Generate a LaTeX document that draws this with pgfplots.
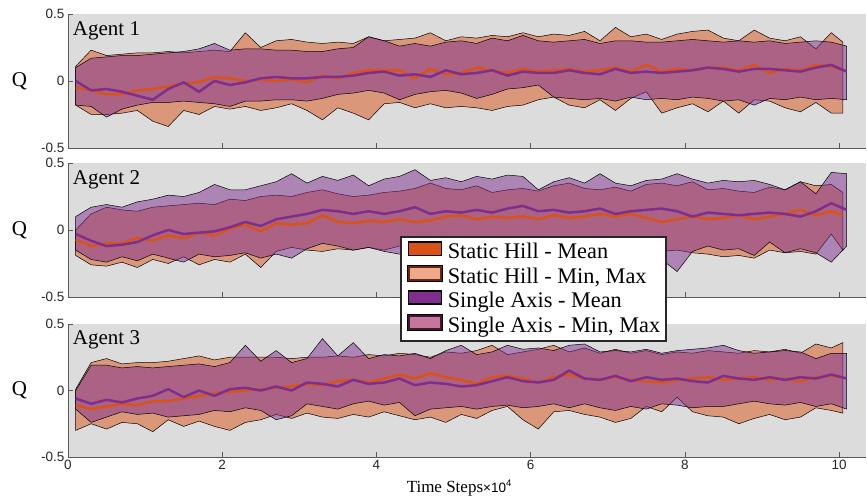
\documentclass[border=0pt]{standalone}
\usepackage{fontspec}
\setmainfont{Liberation Serif}
\newfontfamily\ticksf{Liberation Sans}
\usepackage{pgfplots}
\pgfplotsset{compat=1.18}
\usepackage{pgfplotstable}
\usepgfplotslibrary{fillbetween}

\definecolor{bgGray}{rgb}{0.863,0.863,0.863}
\definecolor{SH}{rgb}{0.85,0.325,0.098}
\definecolor{SA}{rgb}{0.494,0.184,0.556}
\definecolor{SHlight}{RGB}{240,168,138}
\definecolor{SHedge}{RGB}{100,40,16}
\definecolor{SAlight}{RGB}{196,118,156}
\definecolor{SAedge}{RGB}{70,22,45}

% ---------- Agent 1 ----------
\pgfplotstableread{
x min mean max
0.1 -0.18 -0.05 0.11
0.3 -0.25 -0.07 0.23
0.5 -0.25 -0.10 0.19
0.7 -0.24 -0.10 0.20
0.9 -0.22 -0.07 0.21
1.1 -0.30 -0.06 0.21
1.3 -0.34 -0.04 0.22
1.5 -0.22 -0.02 0.21
1.7 -0.25 -0.01 0.22
1.9 -0.19 0.03 0.23
2.1 -0.21 0.02 0.22
2.3 -0.19 0.00 0.36
2.5 -0.22 0.01 0.25
2.7 -0.20 0.00 0.30
2.9 -0.17 0.01 0.31
3.1 -0.22 -0.01 0.29
3.3 -0.29 0.04 0.28
3.5 -0.20 0.02 0.29
3.7 -0.24 0.06 0.28
3.9 -0.29 0.08 0.33
4.1 -0.17 0.08 0.30
4.3 -0.16 0.08 0.31
4.5 -0.20 0.02 0.32
4.7 -0.17 0.09 0.36
4.9 -0.20 0.05 0.30
5.1 -0.19 0.06 0.33
5.3 -0.20 0.10 0.32
5.5 -0.22 0.08 0.34
5.7 -0.19 0.06 0.33
5.9 -0.18 0.09 0.36
6.1 -0.14 0.07 0.33
6.3 -0.12 0.08 0.35
6.5 -0.18 0.09 0.34
6.7 -0.20 0.07 0.37
6.9 -0.14 0.08 0.30
7.1 -0.22 0.10 0.40
7.3 -0.13 0.07 0.33
7.5 -0.08 0.12 0.35
7.7 -0.24 0.07 0.31
7.9 -0.20 0.09 0.35
8.1 -0.17 0.08 0.37
8.3 -0.23 0.10 0.38
8.5 -0.15 0.10 0.32
8.7 -0.24 0.08 0.30
8.9 -0.14 0.12 0.38
9.1 -0.15 0.06 0.32
9.3 -0.20 0.09 0.30
9.5 -0.23 0.08 0.33
9.7 -0.16 0.12 0.24
9.9 -0.24 0.11 0.36
10.05 -0.24 0.08 0.29
}\oA
\pgfplotstableread{
x min mean max
0.1 -0.18 0.00 0.10
0.3 -0.19 -0.07 0.17
0.5 -0.27 -0.06 0.18
0.7 -0.21 -0.08 0.19
0.9 -0.18 -0.11 0.19
1.1 -0.16 -0.14 0.20
1.3 -0.16 -0.06 0.21
1.5 -0.15 -0.01 0.22
1.7 -0.16 -0.08 0.24
1.9 -0.17 0.00 0.28
2.1 -0.19 -0.03 0.23
2.3 -0.15 -0.01 0.24
2.5 -0.15 0.02 0.24
2.7 -0.14 0.03 0.23
2.9 -0.14 0.02 0.23
3.1 -0.15 0.02 0.22
3.3 -0.13 0.03 0.22
3.5 -0.10 0.03 0.24
3.7 -0.09 0.04 0.25
3.9 -0.07 0.06 0.33
4.1 -0.09 0.07 0.30
4.3 -0.14 0.04 0.26
4.5 -0.10 0.05 0.28
4.7 -0.08 0.03 0.26
4.9 -0.07 0.08 0.29
5.1 -0.09 0.05 0.30
5.3 -0.13 0.06 0.28
5.5 -0.10 0.08 0.32
5.7 -0.06 0.04 0.30
5.9 -0.05 0.07 0.34
6.1 -0.03 0.06 0.30
6.3 -0.12 0.06 0.29
6.5 -0.13 0.08 0.30
6.7 -0.14 0.06 0.31
6.9 -0.13 0.05 0.28
7.1 -0.15 0.09 0.30
7.3 -0.12 0.06 0.30
7.5 -0.14 0.07 0.29
7.7 -0.13 0.06 0.29
7.9 -0.14 0.07 0.30
8.1 -0.12 0.08 0.31
8.3 -0.13 0.10 0.30
8.5 -0.15 0.09 0.29
8.7 -0.14 0.07 0.30
8.9 -0.18 0.09 0.29
9.1 -0.13 0.09 0.30
9.3 -0.14 0.08 0.28
9.5 -0.12 0.07 0.29
9.7 -0.14 0.10 0.30
9.9 -0.13 0.12 0.29
10.1 -0.14 0.07 0.26
}\pA

% ---------- Agent 2 ----------
\pgfplotstableread{
x min mean max
0.1 -0.19 -0.07 0.00
0.3 -0.26 -0.12 0.12
0.5 -0.27 -0.10 0.17
0.7 -0.24 -0.10 0.15
0.9 -0.28 -0.06 0.14
1.1 -0.22 -0.08 0.17
1.3 -0.25 -0.04 0.18
1.5 -0.20 -0.06 0.19
1.7 -0.26 -0.02 0.20
1.9 -0.22 -0.04 0.19
2.1 -0.24 0.01 0.23
2.3 -0.18 0.04 0.22
2.5 -0.28 -0.01 0.25
2.7 -0.16 0.05 0.26
2.9 -0.13 0.04 0.25
3.1 -0.15 0.05 0.28
3.3 -0.16 0.11 0.30
3.5 -0.14 0.06 0.27
3.7 -0.15 0.05 0.25
3.9 -0.13 0.07 0.26
4.1 -0.15 0.06 0.28
4.3 -0.12 0.08 0.29
4.5 -0.11 0.06 0.31
4.7 -0.13 0.07 0.35
4.9 -0.12 0.10 0.31
5.1 -0.16 0.11 0.30
5.3 -0.14 0.08 0.33
5.5 -0.18 0.10 0.28
5.7 -0.12 0.09 0.30
5.9 -0.20 0.10 0.31
6.1 -0.15 0.08 0.29
6.3 -0.14 0.11 0.33
6.5 -0.22 0.09 0.35
6.7 -0.15 0.10 0.31
6.9 -0.18 0.12 0.30
7.1 -0.14 0.10 0.32
7.3 -0.17 0.12 0.29
7.5 -0.20 0.09 0.34
7.7 -0.16 0.06 0.35
7.9 -0.15 0.08 0.33
8.1 -0.17 0.10 0.36
8.3 -0.18 0.08 0.30
8.5 -0.20 0.09 0.31
8.7 -0.19 0.11 0.29
8.9 -0.21 0.08 0.28
9.1 -0.15 0.10 0.32
9.3 -0.17 0.12 0.30
9.5 -0.16 0.15 0.36
9.7 -0.18 0.11 0.33
9.9 -0.03 0.14 0.34
10.05 -0.15 0.11 0.28
}\oB
\pgfplotstableread{
x min mean max
0.1 -0.15 -0.03 0.10
0.3 -0.22 -0.08 0.17
0.5 -0.24 -0.12 0.19
0.7 -0.20 -0.11 0.17
0.9 -0.23 -0.09 0.21
1.1 -0.18 -0.04 0.23
1.3 -0.21 0.00 0.26
1.5 -0.24 -0.03 0.25
1.7 -0.18 -0.02 0.28
1.9 -0.20 -0.01 0.34
2.1 -0.19 0.02 0.30
2.3 -0.17 0.06 0.30
2.5 -0.21 0.03 0.33
2.7 -0.18 0.08 0.36
2.9 -0.21 0.10 0.42
3.1 -0.14 0.12 0.35
3.3 -0.10 0.15 0.40
3.5 -0.12 0.14 0.37
3.7 -0.15 0.12 0.41
3.9 -0.13 0.14 0.33
4.1 -0.16 0.12 0.38
4.3 -0.18 0.14 0.40
4.5 -0.21 0.17 0.45
4.7 -0.17 0.12 0.37
4.9 -0.15 0.14 0.39
5.1 -0.12 0.13 0.36
5.3 -0.20 0.15 0.40
5.5 -0.16 0.13 0.38
5.7 -0.14 0.16 0.41
5.9 -0.18 0.18 0.40
6.1 -0.13 0.14 0.30
6.3 -0.16 0.15 0.36
6.5 -0.19 0.13 0.39
6.7 -0.14 0.14 0.35
6.9 -0.17 0.16 0.42
7.1 -0.21 0.12 0.35
7.3 -0.15 0.14 0.33
7.5 -0.18 0.15 0.37
7.7 -0.22 0.16 0.38
7.9 -0.31 0.14 0.42
8.1 -0.16 0.10 0.38
8.3 -0.12 0.13 0.35
8.5 -0.15 0.12 0.37
8.7 -0.14 0.11 0.36
8.9 -0.19 0.12 0.37
9.1 -0.09 0.13 0.34
9.3 -0.17 0.12 0.30
9.5 -0.14 0.10 0.36
9.7 -0.17 0.14 0.27
9.9 -0.24 0.20 0.43
10.1 -0.12 0.15 0.42
}\pB

% ---------- Agent 3 ----------
\pgfplotstableread{
x min mean max
0.1 -0.30 -0.11 0.01
0.3 -0.25 -0.14 0.21
0.5 -0.29 -0.12 0.24
0.7 -0.24 -0.10 0.20
0.9 -0.25 -0.11 0.21
1.1 -0.31 -0.08 0.21
1.3 -0.22 -0.08 0.22
1.5 -0.27 -0.06 0.24
1.7 -0.23 -0.04 0.26
1.9 -0.27 -0.02 0.23
2.1 -0.30 -0.01 0.25
2.3 -0.24 0.00 0.25
2.5 -0.22 0.01 0.25
2.7 -0.18 0.02 0.25
2.9 -0.21 0.03 0.24
3.1 -0.17 0.05 0.25
3.3 -0.20 0.04 0.25
3.5 -0.21 0.07 0.26
3.7 -0.18 0.08 0.25
3.9 -0.20 0.06 0.27
4.1 -0.16 0.09 0.26
4.3 -0.19 0.12 0.28
4.5 -0.22 0.09 0.27
4.7 -0.20 0.13 0.25
4.9 -0.24 0.10 0.29
5.1 -0.18 0.08 0.28
5.3 -0.21 0.05 0.30
5.5 -0.15 0.10 0.34
5.7 -0.12 0.11 0.27
5.9 -0.22 0.09 0.29
6.1 -0.29 0.06 0.31
6.3 -0.16 0.10 0.34
6.5 -0.15 0.12 0.29
6.7 -0.18 0.09 0.32
6.9 -0.20 0.08 0.28
7.1 -0.24 0.10 0.31
7.3 -0.21 0.08 0.28
7.5 -0.12 0.07 0.30
7.7 -0.16 0.06 0.27
7.9 -0.05 0.08 0.29
8.1 -0.16 0.09 0.28
8.3 -0.19 0.10 0.30
8.5 -0.20 0.08 0.29
8.7 -0.25 0.09 0.28
8.9 -0.21 0.10 0.30
9.1 -0.18 0.08 0.29
9.3 -0.22 0.09 0.31
9.5 -0.20 0.07 0.28
9.7 -0.13 0.10 0.35
9.9 -0.15 0.11 0.32
10.05 -0.17 0.10 0.36
}\oC
\pgfplotstableread{
x min mean max
0.1 -0.14 -0.06 0.00
0.3 -0.24 -0.10 0.19
0.5 -0.20 -0.07 0.19
0.7 -0.16 -0.09 0.17
0.9 -0.18 -0.06 0.18
1.1 -0.17 -0.04 0.17
1.3 -0.20 0.01 0.18
1.5 -0.19 -0.05 0.19
1.7 -0.18 0.00 0.20
1.9 -0.15 -0.04 0.18
2.1 -0.16 0.01 0.21
2.3 -0.13 0.02 0.34
2.5 -0.15 0.00 0.22
2.7 -0.22 0.03 0.30
2.9 -0.19 0.00 0.21
3.1 -0.10 0.06 0.24
3.3 -0.12 0.05 0.39
3.5 -0.14 0.03 0.26
3.7 -0.10 0.08 0.36
3.9 -0.08 0.05 0.24
4.1 -0.11 0.06 0.27
4.3 -0.09 0.09 0.26
4.5 -0.19 0.04 0.28
4.7 -0.14 0.06 0.24
4.9 -0.13 0.05 0.30
5.1 -0.12 0.03 0.34
5.3 -0.14 0.04 0.27
5.5 -0.12 0.07 0.29
5.7 -0.11 0.10 0.34
5.9 -0.13 0.07 0.31
6.1 -0.12 0.06 0.32
6.3 -0.10 0.08 0.30
6.5 -0.13 0.15 0.34
6.7 -0.10 0.09 0.35
6.9 -0.13 0.08 0.29
7.1 -0.15 0.11 0.30
7.3 -0.12 0.07 0.29
7.5 -0.14 0.10 0.31
7.7 -0.10 0.08 0.28
7.9 -0.11 0.09 0.30
8.1 -0.13 0.07 0.31
8.3 -0.12 0.06 0.32
8.5 -0.12 0.11 0.34
8.7 -0.10 0.09 0.30
8.9 -0.08 0.08 0.28
9.1 -0.10 0.10 0.29
9.3 -0.11 0.08 0.30
9.5 -0.09 0.10 0.29
9.7 -0.12 0.09 0.24
9.9 -0.10 0.12 0.28
10.1 -0.14 0.09 0.28
}\pC

\pgfplotsset{
  panel/.style={
    scale only axis, width=798pt, height=134pt,
    xmin=0, xmax=10.35, ymin=-0.5, ymax=0.5,
    axis x line*=bottom, axis y line*=left,
    axis line style={-, black!65, line width=0.6pt},
    axis background/.style={fill=bgGray, draw=none},
    tick style={black!65, line width=0.6pt},
    major tick length=5pt, tick align=inside,
    xtick={0,2,4,6,8,10}, ytick={-0.5,0,0.5},
    yticklabels={-0.5,0,0.5},
    ticklabel style={font=\ticksf\fontsize{13.5}{13.5}\selectfont, text=black!85},
    ylabel={Q},
    ylabel style={rotate=-90, font=\fontsize{21}{21}\selectfont, at={(axis description cs:-0.0608,0.5)}, anchor=center},
  }
}

\newcommand{\bands}[2]{%
  \addplot[draw=none, name path=omax, forget plot] table[x=x,y=max]{#1};
  \addplot[draw=none, name path=omin, forget plot] table[x=x,y=min]{#1};
  \addplot[fill=SH, fill opacity=0.5, draw=black, line width=0.5pt, forget plot] fill between[of=omax and omin];
  \addplot[draw=none, name path=pmax, forget plot] table[x=x,y=max]{#2};
  \addplot[draw=none, name path=pmin, forget plot] table[x=x,y=min]{#2};
  \addplot[fill=SA, fill opacity=0.5, draw=black, line width=0.5pt, forget plot] fill between[of=pmax and pmin];
  \addplot[SH, line width=2.5pt, line join=round, forget plot] table[x=x,y=mean]{#1};
  \addplot[SA, line width=2.5pt, line join=round, forget plot] table[x=x,y=mean]{#2};
}

\begin{document}
\begin{tikzpicture}
\path (0,0) rectangle (867pt,496pt);

\begin{axis}[panel, at={(68pt,348pt)}, anchor=south west, xticklabels={}]
  \bands{\oA}{\pA}
  \node[anchor=base west, font=\fontsize{21}{21}\selectfont, inner sep=0pt] at (rel axis cs:0.006,0.843) {Agent 1};
\end{axis}

\begin{axis}[panel, at={(68pt,199pt)}, anchor=south west, xticklabels={}]
  \bands{\oB}{\pB}
  \node[anchor=base west, font=\fontsize{21}{21}\selectfont, inner sep=0pt] at (rel axis cs:0.006,0.843) {Agent 2};
\end{axis}

\begin{axis}[panel, height=133pt, at={(68pt,39pt)}, anchor=south west,
  xticklabels={0,2,4,6,8,10},
  xlabel={Time Steps{\ticksf\fontsize{13.5}{13.5}\selectfont ×10\raisebox{0.45em}{\fontsize{9.5}{9.5}\selectfont 4}}},
  xlabel style={font=\fontsize{17}{17}\selectfont, at={(axis description cs:0.49,0)}, anchor=base, yshift=-36pt},
  legend style={at={(0.416,1.662)}, anchor=north west, draw=black!85, line width=2.2pt, fill=white,
    inner xsep=6pt, inner ysep=4pt, row sep=1.5pt, column sep=4.5pt,
    font=\fontsize{22.3}{22.3}\selectfont,
    nodes={inner sep=0pt, text height=15.5pt, text depth=5pt}},
  legend cell align=left]
  \addlegendimage{legend image code/.code={\draw[fill=SH, draw=black, line width=1.6pt] (0pt,-2pt) rectangle (33pt,11.5pt);}}
  \addlegendentry{Static Hill - Mean}
  \addlegendimage{legend image code/.code={\draw[fill=SHlight, draw=SHedge, line width=2.4pt] (0pt,-2pt) rectangle (33pt,11.5pt); \draw[black, line width=0.8pt] (-1.2pt,-3.2pt) rectangle (34.2pt,12.7pt);}}
  \addlegendentry{Static Hill - Min, Max}
  \addlegendimage{legend image code/.code={\draw[fill=SA, draw=black, line width=1.6pt] (0pt,-2pt) rectangle (33pt,11.5pt);}}
  \addlegendentry{Single Axis - Mean}
  \addlegendimage{legend image code/.code={\draw[fill=SAlight, draw=SAedge, line width=2.4pt] (0pt,-2pt) rectangle (33pt,11.5pt); \draw[black, line width=0.8pt] (-1.2pt,-3.2pt) rectangle (34.2pt,12.7pt);}}
  \addlegendentry{Single Axis - Min, Max}
  \bands{\oC}{\pC}
  \node[anchor=base west, font=\fontsize{21}{21}\selectfont, inner sep=0pt] at (rel axis cs:0.006,0.843) {Agent 3};
\end{axis}
\end{tikzpicture}
\end{document}
